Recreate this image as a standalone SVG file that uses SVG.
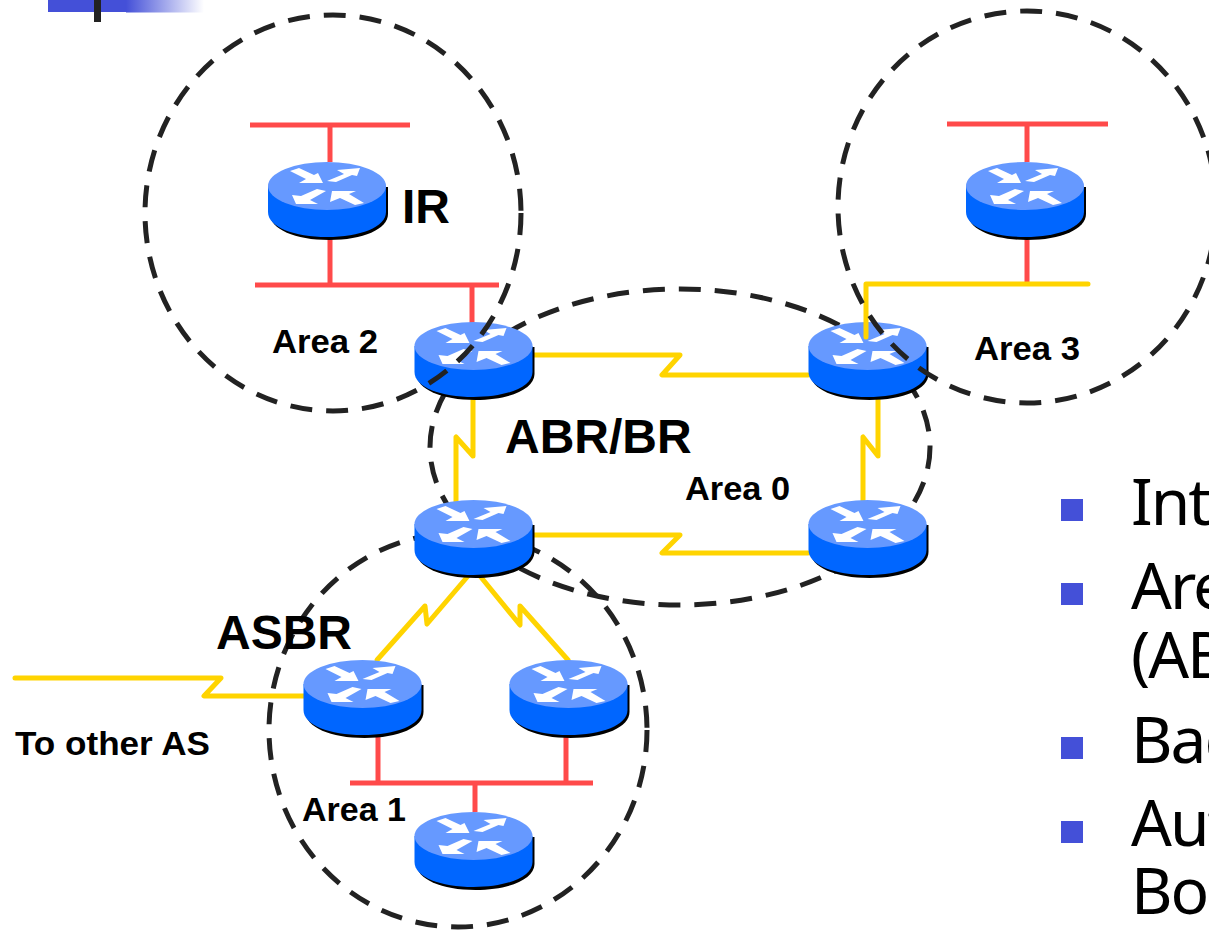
<svg xmlns="http://www.w3.org/2000/svg" width="1209" height="930" viewBox="0 0 1209 930">
<style>
.red{stroke:#ff4a4a;stroke-width:5;fill:none}
.yel{stroke:#ffd400;stroke-width:5;fill:none;stroke-linejoin:round;stroke-linecap:round}
.area{fill:none;stroke:#222;stroke-width:5;stroke-dasharray:22 14}
.lb{font-family:"Liberation Sans",Arial,sans-serif;font-weight:bold;fill:#000}
.s{font-size:33px}.m{font-size:48px}
.bul{font-family:"Noto Sans","DejaVu Sans",sans-serif;font-size:64px;letter-spacing:-2px;fill:#000}
.sq{fill:#4450d8}
</style>
<defs>
<linearGradient id="fade" x1="0" x2="1" y1="0" y2="0"><stop offset="0" stop-color="#4450d8"/><stop offset="1" stop-color="#fff"/></linearGradient>
<g id="router">
<path d="M-57,0V28C-57,43-32,54 2,54S61,43 61,28V1Z" fill="#000"/>
<path d="M-59,0V26C-59,41-33,51 0,51S59,41 59,26V0Z" fill="#0066ff"/>
<ellipse cx="0" cy="0" rx="59" ry="24" fill="#6699ff"/>
<g fill="#fff">
<polygon points="-37,-15 -28,-18 -13,-11 -9,-13 -4,-3 -28,-3 -21,-7"/>
<polygon points="0,-5 17,-12 10,-16 33,-18 30,-10 25,-11 9,-4"/>
<polygon points="-35,9 -31,18 -9,18 -17,14 -1,5 -10,3 -26,10"/>
<polygon points="3,16 5,5 29,5 22,8 37,17 28,19 13,12"/>
</g>
</g>
</defs>
<rect width="1209" height="930" fill="#fff"/>
<g id="corner">
<rect x="48" y="0" width="78" height="12" fill="#4450d8"/>
<rect x="126" y="0" width="78" height="12.500" fill="url(#fade)"/>
<rect x="94" y="0" width="7" height="22" fill="#222"/>
</g>
<g id="connectors">
<path class="red" d="M250,125H410M330,125V162M330,236V285M255,285H499M472,285V325"/>
<path class="red" d="M947,124H1108M1027,124V162M1027,236V284"/>
<path class="yel" d="M534,355H680L662,375H808"/>
<path class="yel" d="M534,535H680L662,553H808"/>
<path class="yel" d="M473,398V456L456,437V502"/>
<path class="yel" d="M878,398V456L863,437V502"/>
<path class="yel" d="M468,576L427,624L425,606L377,660"/>
<path class="yel" d="M480,576L520,625L520,606L568,660"/>
<path class="yel" d="M15,678H221L204,696H304"/>
<path class="red" d="M378,736V783M566,736V783M350,783H593M475,783V812"/>
</g>
<g id="areas-back">
<ellipse id="area0" class="area" cx="680" cy="447" rx="250" ry="158"/>
<ellipse id="area1" class="area" cx="458" cy="730" rx="189" ry="197"/>
</g>
<g id="r1"><use href="#router" x="327" y="186"/></g>
<g id="r2"><use href="#router" x="1025" y="186"/></g>
<g id="r3"><use href="#router" x="473.500" y="346"/></g>
<g id="r4"><use href="#router" x="867.500" y="346"/></g>
<g id="r5"><use href="#router" x="473.500" y="524"/></g>
<g id="r6"><use href="#router" x="867.500" y="524"/></g>
<g id="r7"><use href="#router" x="362.500" y="684"/></g>
<g id="r8"><use href="#router" x="568.500" y="684"/></g>
<g id="r9"><use href="#router" x="473.500" y="836"/></g>
<path class="yel" d="M1088,284H866V337"/>
<g id="areas-front">
<ellipse id="area2" class="area" cx="333" cy="213" rx="188" ry="198"/>
<ellipse id="area3" class="area" cx="1027" cy="207" rx="189" ry="196"/>
</g>
<g id="labels">
<text class="lb m" x="402" y="223">IR</text>
<text class="lb s" x="272" y="353" textLength="106" lengthAdjust="spacingAndGlyphs">Area 2</text>
<text class="lb s" x="974" y="360" textLength="106" lengthAdjust="spacingAndGlyphs">Area 3</text>
<text class="lb m" x="505" y="453">ABR/BR</text>
<text class="lb s" x="685" y="500" textLength="105" lengthAdjust="spacingAndGlyphs">Area 0</text>
<text class="lb m" x="216" y="649">ASBR</text>
<text class="lb s" x="15" y="755" textLength="195" lengthAdjust="spacingAndGlyphs">To other AS</text>
<text class="lb s" x="302" y="821" textLength="104" lengthAdjust="spacingAndGlyphs">Area 1</text>
</g>
<g id="bullets">
<rect class="sq" x="1061" y="499" width="22" height="22"/>
<rect class="sq" x="1061" y="583" width="22" height="22"/>
<rect class="sq" x="1061" y="737" width="22" height="22"/>
<rect class="sq" x="1061" y="821" width="22" height="22"/>
<text class="bul" x="1131" y="525">Int</text>
<text class="bul" x="1131" y="609">Are</text>
<text class="bul" x="1131" y="678">(AB</text>
<text class="bul" x="1131" y="763">Bac</text>
<text class="bul" x="1131" y="846">Aut</text>
<text class="bul" x="1131" y="914">Bor</text>
</g>
</svg>
